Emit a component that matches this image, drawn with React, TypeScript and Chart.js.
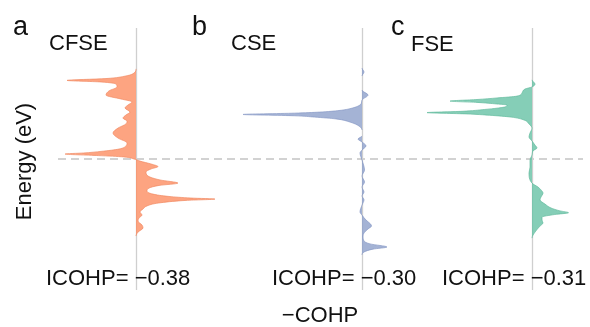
import React, { useEffect, useRef } from 'react';
import { Chart, registerables } from 'chart.js';

Chart.register(...registerables);

// Panel labels / titles / integrated COHP values
const panelLetters = ['a', 'b', 'c'];
const panelTitles = ['CFSE', 'CSE', 'FSE'];
const icohpValues = [-0.38, -0.3, -0.31];

// Energy range (eV), Fermi level at 0
const energyMin = -5;
const energyMax = 5;
const fermiLevel = 0;

// Panel a (CFSE): energy (eV) and -COHP
const energyA = [
  5.0, 3.44, 3.28, 3.17, 3.07, 3.0, 2.94, 2.86, 2.75, 2.6, 2.44, 2.29, 2.18, 2.06, 1.95, 1.79,
  1.68, 1.56, 1.45, 1.34, 1.18, 0.99, 0.8, 0.61, 0.5, 0.38, 0.29, 0.23, 0.19, 0.13, 0.08, 0,
  -0.08, -0.19, -0.29, -0.38, -0.5, -0.65, -0.8, -0.92, -1.01, -1.11, -1.22, -1.34, -1.43,
  -1.49, -1.53, -1.58, -1.68, -1.79, -1.91, -2.02, -2.14, -2.25, -2.37, -2.52, -2.63, -2.79,
  -2.94, -5.0,
];
const cohpA = [
  0, 0, -0.04, -0.2, -0.6, -1.38, -0.7, -0.4, -0.38, -0.54, -0.6, -0.3, -0.08, -0.16, -0.22,
  -0.12, -0.2, -0.26, -0.18, -0.2, -0.36, -0.46, -0.36, -0.18, -0.2, -0.34, -0.7, -1.05, -1.42,
  -0.75, -0.25, -0.04, 0.08, 0.3, 0.44, 0.3, 0.2, 0.24, 0.48, 0.84, 0.46, 0.26, 0.22, 0.34, 0.66,
  1.1, 1.58, 1.0, 0.45, 0.22, 0.14, 0.08, 0.12, 0.06, 0.04, 0.12, 0.14, 0.04, 0, 0,
];

// Panel b (CSE)
const energyB = [
  5.0, 3.47, 3.32, 3.17, 2.63, 2.44, 2.25, 2.1, 1.93, 1.85, 1.79, 1.75, 1.7, 1.65, 1.6, 1.53,
  1.41, 1.26, 1.11, 0.88, 0.76, 0.65, 0.5, 0.34, 0.23, -0.04, -0.42, -0.65, -0.88, -1.07,
  -1.26, -1.41, -1.56, -1.76, -2.02, -2.14, -2.33, -2.48, -2.56, -2.67, -2.82, -2.94, -3.13,
  -3.24, -3.36, -3.44, -3.55, -3.66, -5.0,
];
const cohpB = [
  0, 0, 0.04, 0, 0, 0.12, 0, -0.02, -0.22, -0.46, -0.85, -1.35, -2.38, -1.35, -0.95, -0.52,
  -0.24, -0.06, 0, 0, -0.08, 0, 0.08, 0, -0.04, 0, 0.05, 0, 0.05, 0, 0.04, 0, 0.04, 0, -0.04, 0,
  0.08, 0.17, 0.19, 0.12, 0.04, 0.02, 0.04, 0.16, 0.5, 0.22, 0.04, 0, 0,
];

// Panel c (FSE)
const energyC = [
  5.0, 3.02, 2.86, 2.75, 2.67, 2.52, 2.4, 2.33, 2.27, 2.21, 2.16, 2.1, 2.06, 2.0, 1.94, 1.89,
  1.82, 1.77, 1.72, 1.67, 1.6, 1.49, 1.34, 1.18, 0.99, 0.84, 0.69, 0.53, 0.42, 0.31, 0.15,
  -0.04, -0.31, -0.53, -0.92, -1.07, -1.18, -1.3, -1.45, -1.56, -1.72, -1.87, -1.98, -2.05,
  -2.12, -2.22, -2.33, -2.44, -2.56, -2.79, -3.02, -5.0,
];
const cohpC = [
  0, 0, 0.06, 0, -0.14, -0.2, -0.3, -0.7, -1.1, -1.64, -1.1, -0.7, -0.5, -0.52, -0.7, -0.95,
  -1.4, -2.1, -1.3, -0.85, -0.42, -0.16, -0.06, 0, -0.04, -0.06, 0, 0.06, 0.1, 0.02, 0, -0.04,
  -0.04, -0.06, 0, 0.12, 0.18, 0.22, 0.18, 0.16, 0.26, 0.38, 0.56, 0.73, 0.45, 0.2, 0.2, 0.22,
  0.16, 0.06, 0, 0,
];

const FONT = '"Liberation Sans", Arial, Helvetica, sans-serif';

export default function App() {
  const ref = useRef<HTMLCanvasElement>(null);

  useEffect(() => {
    if (!ref.current) return;
    const zip = (e: number[], c: number[]) => e.map((v, i) => ({ x: c[i], y: v }));

    const panels = [
      { data: zip(energyA, cohpA), fill: 'rgba(252,141,98,0.8)', line: 'rgba(240,135,95,0.85)', axis: 'xa', min: -1.56, max: 8.94 },
      { data: zip(energyB, cohpB), fill: 'rgba(141,160,203,0.8)', line: 'rgba(132,150,196,0.85)', axis: 'xb', min: -6.08, max: 4.42 },
      { data: zip(energyC, cohpC), fill: 'rgba(102,194,165,0.8)', line: 'rgba(96,186,156,0.85)', axis: 'xc', min: -9.48, max: 1.02 },
    ];

    const overlay = {
      id: 'overlay',
      beforeDatasetsDraw(chart: any) {
        const { ctx, chartArea: a, scales } = chart;
        ctx.save();
        const yF = scales.y.getPixelForValue(fermiLevel);
        ctx.strokeStyle = '#c4c4c4';
        ctx.lineWidth = 1.3;
        ctx.setLineDash([8, 5]);
        ctx.beginPath();
        ctx.moveTo(a.left, yF);
        ctx.lineTo(a.right, yF);
        ctx.stroke();
        ctx.setLineDash([]);
        ctx.strokeStyle = '#cfcfcf';
        ctx.lineWidth = 1.3;
        ['xa', 'xb', 'xc'].forEach((id) => {
          const x = Math.round(scales[id].getPixelForValue(0)) + 0.5;
          ctx.beginPath();
          ctx.moveTo(x, a.top);
          ctx.lineTo(x, a.bottom);
          ctx.stroke();
        });
        ctx.restore();
      },
      afterDraw(chart: any) {
        const { ctx, scales } = chart;
        ctx.save();
        ctx.fillStyle = '#111';
        ctx.textBaseline = 'alphabetic';
        ctx.textAlign = 'left';
        const letterX = [13, 192, 391];
        const titleX = [49, 231, 411];
        const titleY = [50, 50, 51];
        ctx.font = `27px ${FONT}`;
        panelLetters.forEach((l, i) => ctx.fillText(l, letterX[i], 35));
        ctx.font = `22px ${FONT}`;
        panelTitles.forEach((t, i) => ctx.fillText(t, titleX[i], titleY[i]));
        ['xa', 'xb', 'xc'].forEach((id, i) => {
          const x0 = scales[id].getPixelForValue(0);
          const v = icohpValues[i];
          const txt = 'ICOHP= ' + (v < 0 ? '\u2212' : '') + Math.abs(v).toFixed(2);
          ctx.fillText(txt, x0 - 90, 285);
        });
        ctx.textAlign = 'center';
        ctx.fillText('\u2212COHP', 320, 322);
        ctx.save();
        ctx.translate(31, 161.5);
        ctx.rotate(-Math.PI / 2);
        ctx.fillText('Energy (eV)', 0, 0);
        ctx.restore();
        ctx.restore();
      },
    };

    const scales: any = {
      y: { type: 'linear', axis: 'y', min: energyMin, max: energyMax, display: false },
    };
    panels.forEach((p) => {
      scales[p.axis] = { type: 'linear', axis: 'x', position: 'bottom', min: p.min, max: p.max, display: false };
    });

    const chart = new Chart(ref.current, {
      type: 'line',
      data: {
        datasets: panels.map((p) => ({
          data: p.data,
          xAxisID: p.axis,
          yAxisID: 'y',
          borderColor: p.line,
          backgroundColor: p.fill,
          borderWidth: 0.8,
          pointRadius: 0,
          fill: { value: 0 },
          cubicInterpolationMode: 'monotone',
          segment: {
            borderColor: (c: any) =>
              c.p0.parsed.x === 0 && c.p1.parsed.x === 0 ? 'rgba(0,0,0,0)' : undefined,
          },
        })),
      } as any,
      options: {
        indexAxis: 'y',
        animation: false,
        responsive: true,
        maintainAspectRatio: false,
        layout: { padding: { left: 58, right: 7, top: 28, bottom: 37 } },
        plugins: { legend: { display: false }, tooltip: { enabled: false } },
        scales,
      } as any,
      plugins: [overlay],
    });
    return () => chart.destroy();
  }, []);

  return (
    <div style={{ position: 'fixed', left: 0, top: 0, width: 590, height: 327, background: '#fff' }}>
      <canvas ref={ref} />
    </div>
  );
}
